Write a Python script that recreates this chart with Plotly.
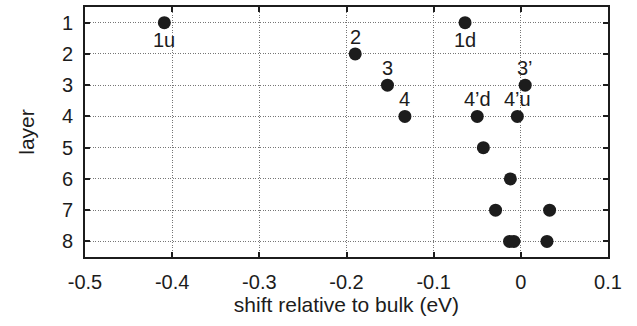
import plotly.graph_objects as go

# Core-level shift of each atom, by layer (eV, relative to bulk)
layers = [1, 1, 2, 3, 3, 4, 4, 4, 5, 6, 7, 7, 8, 8, 8]
shifts = [-0.409, -0.064, -0.190, -0.153, 0.005, -0.133, -0.050, -0.004,
          -0.043, -0.012, -0.029, 0.033, -0.013, -0.008, 0.030]

# Named sites: label, layer, shift, placed above (+1) or below (-1) the dot
site_labels = ["1u", "1d", "2", "3", "3\u2019", "4", "4\u2019d", "4\u2019u"]
site_layers = [1, 1, 2, 3, 3, 4, 4, 4]
site_shifts = [-0.409, -0.064, -0.190, -0.153, 0.005, -0.133, -0.050, -0.004]
site_side = [-1, -1, 1, 1, 1, 1, 1, 1]

x_ticks = [-0.5, -0.4, -0.3, -0.2, -0.1, 0, 0.1]
x_tick_text = ["-0.5", "-0.4", "-0.3", "-0.2", "-0.1", "0", "0.1"]
y_ticks = [1, 2, 3, 4, 5, 6, 7, 8]

font_family = "Liberation Sans, Arial, Helvetica, sans-serif"
ink = "#1c1c1c"

fig = go.Figure()
fig.add_trace(go.Scatter(
    x=shifts, y=layers, mode="markers",
    marker=dict(size=13, color=ink, line=dict(width=0)),
    showlegend=False, hoverinfo="x+y",
))

for lab, ly, sx, side in zip(site_labels, site_layers, site_shifts, site_side):
    fig.add_annotation(
        x=sx, y=ly, text=lab, showarrow=False,
        yshift=17 * side,
        font=dict(family=font_family, size=20, color=ink),
    )

axis_common = dict(
    showline=True, linewidth=2, linecolor=ink, mirror="ticks",
    ticks="inside", ticklen=5, tickwidth=1.5, tickcolor=ink,
    showgrid=True, gridcolor="#767676", gridwidth=1, griddash="1px,1.5px",
    zeroline=False, ticklabelstandoff=6,
    tickfont=dict(family=font_family, size=20, color=ink),
)

fig.update_xaxes(
    range=[-0.5, 0.1], tickvals=x_ticks, ticktext=x_tick_text,
    title=dict(text="shift relative to bulk (eV)", standoff=5,
               font=dict(family=font_family, size=21, color=ink)),
    **axis_common,
)
fig.update_yaxes(
    range=[8.5, 0.5], tickvals=y_ticks,
    title=dict(text="layer", standoff=22,
               font=dict(family=font_family, size=21, color=ink)),
    **axis_common,
)

fig.update_layout(
    width=637, height=326,
    margin=dict(l=85, r=29, t=5, b=69),
    paper_bgcolor="white", plot_bgcolor="white",
)

fig.write_html("out.html")
